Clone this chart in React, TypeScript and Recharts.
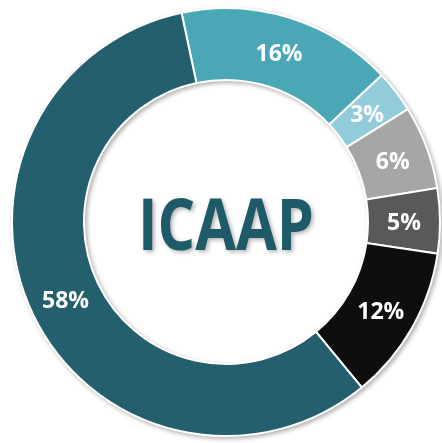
import React from 'react';
import { PieChart, Pie, Cell, Label } from 'recharts';

const categories = ['A', 'B', 'C', 'D', 'E', 'F'];
const values = [16.3, 3.2, 6.3, 4.9, 11.7, 57.6];
const colors = ['#4aa8b6', '#92ccda', '#a6a6a6', '#595959', '#0e0e0e', '#235f6d'];
const centerTitle = 'ICAAP';

const data = categories.map((c, i) => ({ name: c, value: values[i] }));
const RADIAN = Math.PI / 180;

const renderLabel = (props: any) => {
  const { cx, cy, midAngle, innerRadius, outerRadius, value } = props;
  const r = (innerRadius + outerRadius) / 2;
  const x = cx + r * Math.cos(-midAngle * RADIAN);
  const y = cy + r * Math.sin(-midAngle * RADIAN);
  return (
    <text
      x={x}
      y={y}
      fill="#ffffff"
      textAnchor="middle"
      dominantBaseline="central"
      fontFamily="'Open Sans', sans-serif"
      fontWeight={700}
      fontSize={23}
    >
      {`${Math.round(value)}%`}
    </text>
  );
};

const renderCenter = (props: any) => {
  const vb = props.viewBox || {};
  const cx = vb.cx ?? 226;
  const cy = vb.cy ?? 222;
  return (
    <text
      x={cx}
      y={cy}
      fill="#1f5a68"
      textAnchor="middle"
      dominantBaseline="central"
      fontFamily="'Open Sans', sans-serif"
      fontWeight={700}
      fontSize={72}
      textLength={176}
      lengthAdjust="spacingAndGlyphs"
    >
      {centerTitle}
    </text>
  );
};

export default function App() {
  return (
    <div style={{ position: 'absolute', left: 0, top: 0, filter: 'drop-shadow(2px 2px 2px rgba(0,0,0,0.3))' }}>
      <PieChart width={442} height={443} margin={{ top: 0, right: 0, bottom: 0, left: 0 }}>
        <Pie
          data={data}
          dataKey="value"
          cx={226}
          cy={222}
          innerRadius={142}
          outerRadius={214}
          startAngle={102}
          endAngle={-258}
          stroke="#ffffff"
          strokeWidth={2}
          label={renderLabel}
          labelLine={false}
          isAnimationActive={false}
        >
          {data.map((d, i) => (
            <Cell key={d.name} fill={colors[i]} />
          ))}
          <Label position="center" content={renderCenter} />
        </Pie>
      </PieChart>
    </div>
  );
}
